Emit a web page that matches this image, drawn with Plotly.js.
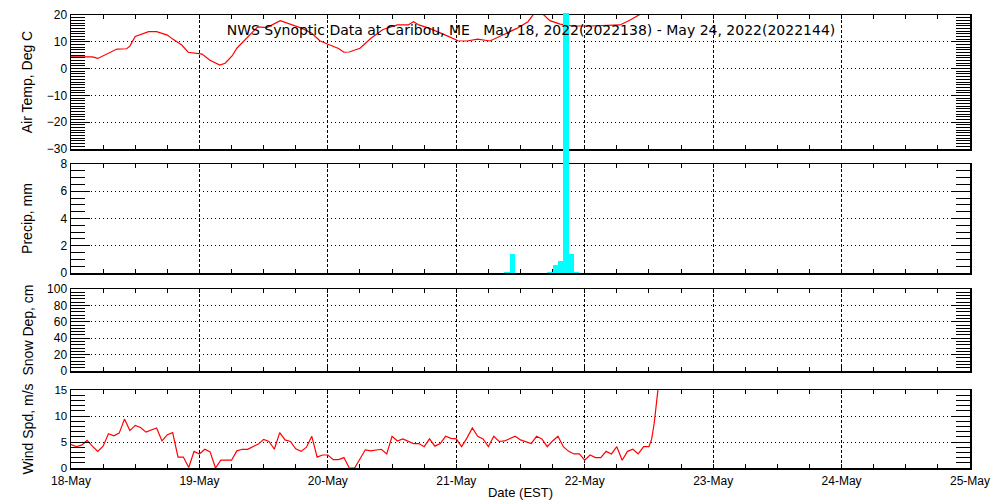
<!DOCTYPE html>
<html><head><meta charset="utf-8">
<script src="https://cdn.plot.ly/plotly-3.0.1.min.js"></script>
<style>html,body{margin:0;padding:0;background:#fff}#chart{width:1000px;height:500px}</style>
</head><body><div id="chart"></div>
<script>
// ---- data ----
const startDate = Date.UTC(2022, 4, 18);   // 18-May-2022 00:00 EST
const endDate = Date.UTC(2022, 4, 25);
const HOUR = 3600000;
const titleText = 'NWS Synoptic Data at Caribou, ME\u00a0\u00a0\u00a0May 18, 2022(2022138) - May 24, 2022(2022144)';
const panelTitles = ['Air Temp, Deg C', 'Precip, mm', 'Snow Dep, cm', 'Wind Spd, m/s'];
const xTitle = 'Date (EST)';

// hours since start, air temperature (deg C)
const tempHours = [0,2,4,5,7,8.6,10.4,11,12,13,14.5,16,18,19,20.7,21.9,23.7,24.5,25.9,27.8,28.8,30.1,31,32.5,34,34.9,36.6,39.1,40.9,43.2,45,46.5,48,50,51,52,54,56,58.3,61,63,64,65,67,70.3,72.3,74,76,78.3,80.7,83.3,85.4,86.7,87.5,88.2,89.5,91.4,93.8,97,102.6,104.5,106.3,107.3];
const tempVals = [4.4,4.4,4.4,3.8,5.6,7.3,7.4,8.4,12.0,12.8,13.8,13.8,12.5,11.0,8.8,6.1,5.7,5.4,3.2,1.3,2.0,4.7,7.6,10.9,13.8,15.6,15.3,17.9,16.6,15.0,13.2,10.4,9.1,7.5,6.1,6.2,7.6,11.2,14.6,16.3,16.3,17.5,16.3,15.0,12.2,10.4,10.3,11.0,10.3,12.5,15.0,17.5,21,22,20.3,17.9,16.6,15.9,15.9,16.3,18.1,20.2,23];

// hourly precipitation (mm), hour index since start
const precipHours = [81,82,89,90,91,92,93,94];
const precipVals = [0.1,1.4,0.1,0.6,0.9,19.1,1.4,0.1];

// snow depth (cm): no reports
const snowHours = [];
const snowVals = [];

// wind speed (m/s)
const windHours = [0,1,2,3,4,5,6,7,8,9,10,11,12,13,14,16,17,18,19,20,21,22,23,24,25,26,27,28,30,31,32,33,35,36,37,38,39,40,41,42,43,44,45,46,47,48,49,50,51,52,53,55,56,58,59,60,61,62,64,65,66,67,68,69,70,71,72,73,74,75,76,77,78,79,80,81,83,84,86,87,88,89,90,91,92,93,94,95,96,97,98,99,100,101,102,103,104,105,106,107,108,108.5,109,109.3,109.7,110];
const windVals = [4.5,4.1,4.4,5.3,4.2,3.2,4.2,6.6,6.2,6.7,9.4,7.2,8.2,7.8,6.9,7.7,5.2,6.4,6.8,2.1,2.1,0.1,3.2,2.7,3.6,3.1,0,1.5,1.5,3.3,3.6,3.6,4.6,5.5,5.1,3.6,6.8,5.4,5.1,3.7,3.2,4.0,6.1,2.1,2.5,2.5,1.6,1.6,2.0,0,0,3.5,3.3,3.6,2.7,6.1,5.2,5.6,4.7,4.7,4.1,5.6,4.2,4.7,6.1,5.7,5.6,4.1,5.8,7.7,6.1,5.6,4.1,6.1,5.1,5.2,6.1,5.4,4.7,6.1,5.6,4.1,5.2,6.1,4.1,3.2,2.7,2.7,1.5,2.5,2.0,2.0,3.2,2.7,4.1,1.5,3.2,3.6,2.7,4.1,4.1,5.5,8.7,11.8,15.5,18];

// axis ranges / ticks
const tempRange = [-30, 20], tempDtick = 10, tempMinor = 1;
const precipRange = [0, 8], precipDtick = 2, precipMinor = 0.5;
const snowRange = [0, 100], snowDtick = 20, snowMinor = 4;
const windRange = [0, 15], windDtick = 5, windMinor = 1;

// ---- layout geometry (pixels) ----
const W = 1000, H = 500;
const M = {l: 71, r: 30, t: 10, b: 32};
const plotH = H - M.t - M.b;
const bottomPx = H - M.b;
function dom(topPx, botPx) { return [(bottomPx - botPx) / plotH, (bottomPx - topPx) / plotH]; }
const dTemp = dom(15, 149), dPrecip = dom(164, 273), dSnow = dom(289, 371), dWind = dom(390, 468);

const toX = h => startDate + h * HOUR;
const FONT = 'Liberation Sans, Arial, sans-serif';
const TFONT = 'DejaVu Sans, sans-serif';

function xAxis(anchor, showLabels) {
  const a = {
    type: 'date', range: [startDate, endDate], anchor: anchor,
    tick0: startDate, dtick: 86400000, tickformat: '%d-%b',
    showticklabels: showLabels, ticks: 'inside', ticklen: 4, tickcolor: '#000', tickwidth: 1,
    showline: true, linecolor: '#000', linewidth: 1.5, mirror: 'allticks',
    showgrid: true, gridcolor: '#000', gridwidth: 1, griddash: '3px,2px',
    minor: {dtick: 6 * HOUR, ticks: 'inside', ticklen: 4, tickcolor: '#000', tickwidth: 1, showgrid: false},
    zeroline: false, fixedrange: true,
    tickfont: {family: FONT, size: 12, color: '#000'}
  };
  if (anchor !== 'y') a.matches = 'x';
  return a;
}
function yAxis(anchor, domain, range, dtick, minor, title, standoff) {
  return {
    anchor: anchor, domain: domain, range: range, tick0: range[0], dtick: dtick,
    ticks: 'inside', ticklen: 19, tickcolor: '#000', tickwidth: 1,
    showline: true, linecolor: '#000', linewidth: 1.5, mirror: 'allticks',
    showgrid: true, gridcolor: '#000', gridwidth: 1, griddash: '1px,3px',
    minor: {dtick: minor, tick0: range[0], ticks: 'inside', ticklen: 14, tickcolor: '#000', tickwidth: 1, showgrid: false},
    zeroline: false, fixedrange: true,
    tickfont: {family: FONT, size: 12, color: '#000'},
    title: {text: title, standoff: standoff, font: {family: FONT, size: 14, color: '#000'}}
  };
}

const traces = [
  {type: 'scatter', mode: 'lines', x: tempHours.map(toX), y: tempVals, xaxis: 'x', yaxis: 'y',
   line: {color: '#ff0000', width: 1.2}, hoverinfo: 'skip'},
  {type: 'scatter', mode: 'lines', x: [], y: [], xaxis: 'x2', yaxis: 'y2', hoverinfo: 'skip'},
  {type: 'scatter', mode: 'lines', x: snowHours.map(toX), y: snowVals, xaxis: 'x3', yaxis: 'y3',
   line: {color: '#ff0000', width: 1.2}, hoverinfo: 'skip'},
  {type: 'scatter', mode: 'lines', x: windHours.map(toX), y: windVals, xaxis: 'x4', yaxis: 'y4',
   line: {color: '#ff0000', width: 1.2}, hoverinfo: 'skip'},
  // precipitation bars: drawn on a transparent axis pair that shares the precip scale
  // but extends upward, so the tall bar is not clipped at the panel top (as in the original)
  {type: 'bar', x: precipHours.map(h => toX(h + 0.5)), y: precipVals, width: HOUR, xaxis: 'x5', yaxis: 'y5',
   marker: {color: '#00ffff', line: {width: 0}}, hoverinfo: 'skip'}
];

const layout = {
  width: W, height: H, margin: M, paper_bgcolor: '#fff', plot_bgcolor: 'rgba(0,0,0,0)',
  showlegend: false, bargap: 0,
  font: {family: FONT, color: '#000'},
  title: {text: titleText, x: (531 - M.l) / (W - M.l - M.r), xref: 'paper', xanchor: 'center',
          y: 1 - 30 / H, yref: 'container', yanchor: 'middle', font: {family: TFONT, size: 14, color: '#000'}},
  xaxis: xAxis('y', false),
  xaxis2: xAxis('y2', false),
  xaxis3: xAxis('y3', false),
  xaxis4: Object.assign(xAxis('y4', true), {ticklabelstandoff: 1,
          title: {text: xTitle, standoff: 3, font: {family: FONT, size: 13, color: '#000'}}}),
  xaxis5: {type: 'date', range: [startDate, endDate], matches: 'x', anchor: 'y5', visible: false, fixedrange: true},
  yaxis: yAxis('x', dTemp, tempRange, tempDtick, tempMinor, panelTitles[0], 11),
  yaxis2: yAxis('x2', dPrecip, precipRange, precipDtick, precipMinor, panelTitles[1], 24),
  yaxis3: yAxis('x3', dSnow, snowRange, snowDtick, snowMinor, panelTitles[2], 10),
  yaxis4: Object.assign(yAxis('x4', dWind, windRange, windDtick, windMinor, panelTitles[3], 17),
          {tickfont: {family: FONT, size: 11.5, color: '#000'}}),
  yaxis5: {anchor: 'x5', domain: [dPrecip[0], 1], visible: false, fixedrange: true,
           range: [0, precipRange[1] * (1 - dPrecip[0]) / (dPrecip[1] - dPrecip[0])]}
};

Plotly.newPlot('chart', traces, layout, {displayModeBar: false, staticPlot: true});
</script>
</body></html>
